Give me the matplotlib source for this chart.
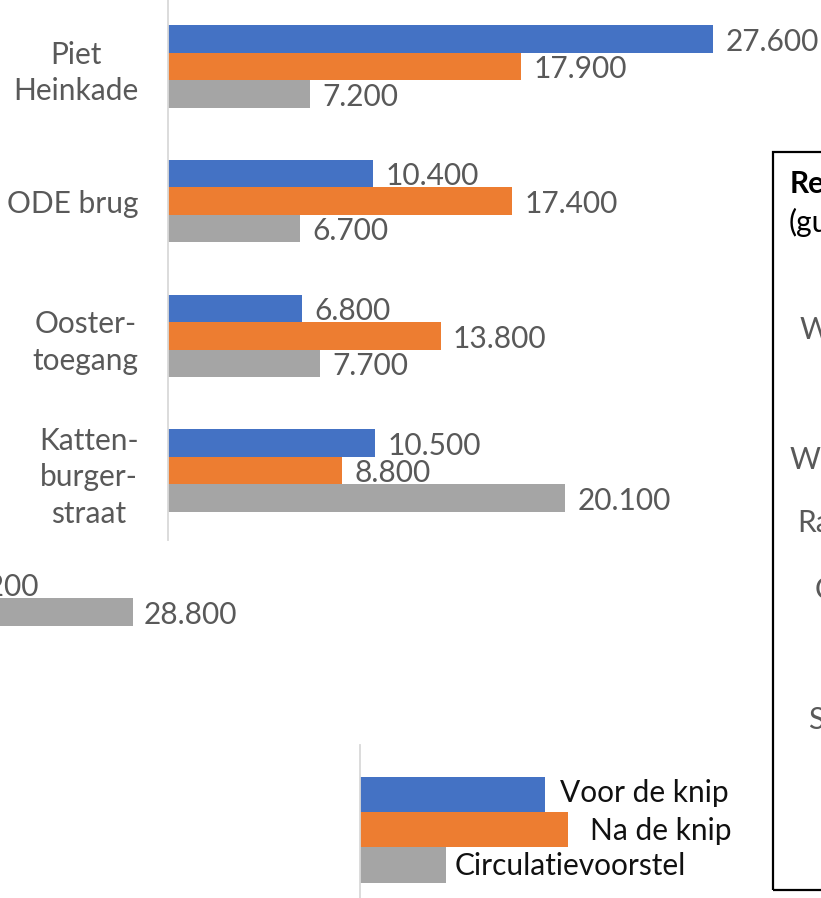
import matplotlib
matplotlib.use("Agg")
import matplotlib.pyplot as plt
from matplotlib.patches import Rectangle

plt.rcParams['font.family'] = ['Lato', 'DejaVu Sans']
plt.rcParams['font.size'] = 21.5

# data
categories = ["Piet\nHeinkade", "ODE brug", "Ooster-\ntoegang", "Katten-\nburger-\nstraat"]
voor_de_knip = [27600, 10400, 6800, 10500]
na_de_knip = [17900, 17400, 13800, 8800]
circulatievoorstel = [7200, 6700, 7700, 20100]

# partly visible panel at the lower left
left_panel_na = [19200]
left_panel_circ = [28800]

series_names = ["Voor de knip", "Na de knip", "Circulatievoorstel"]
legend_bar_lengths = [9.37, 10.53, 4.36]

# fragments of the text box on the right edge
box_texts = ["Re", "(gu", "W", "We", "Ra", "C", "S"]

BLUE = '#4472C4'
ORANGE = '#ED7D31'
GRAY = '#A5A5A5'
TXT = '#595959'
AXIS = '#D9D9D9'

W, H = 821, 898


def fig_rect(x0, y0, x1, y1):
    # pixel box (top-left origin) -> figure fraction
    return [x0 / W, 1 - y1 / H, (x1 - x0) / W, (y1 - y0) / H]


def fmt(v):
    return f"{v:,}".replace(",", ".")


def clean(ax):
    ax.patch.set_visible(False)
    for s in ['top', 'right', 'bottom']:
        ax.spines[s].set_visible(False)
    ax.spines['left'].set_color(AXIS)
    ax.spines['left'].set_linewidth(1.3)
    ax.set_xticks([])
    ax.tick_params(axis='y', length=0)


fig = plt.figure(figsize=(W / 100, H / 100), dpi=100)

# main chart
ax = fig.add_axes(fig_rect(168, 0, 821, 540))
clean(ax)
px_per_unit = 545 / 27600
ax.set_xlim(0, 653 / px_per_unit)
spacing = 134.7
ax.set_ylim((540 - 66.5) / spacing, -66.5 / spacing)
bh = 27.5 / spacing
ys = list(range(len(categories)))
for off, vals, col in [(-bh, voor_de_knip, BLUE), (0, na_de_knip, ORANGE), (bh, circulatievoorstel, GRAY)]:
    yy = [y + off for y in ys]
    ax.barh(yy, vals, height=bh, color=col)
    for y, v in zip(yy, vals):
        ax.annotate(fmt(v), xy=(v, y), xytext=(9, -2), textcoords='offset points',
                    va='center', ha='left', color=TXT)
ax.set_yticks(ys)
ax.set_yticklabels(categories, color=TXT)
ax.tick_params(axis='y', pad=21)
for lab in ax.get_yticklabels():
    lab.set_multialignment('center')
    lab.set_linespacing(1.36)

# lower-left panel, mostly outside the picture
a_px, s_px = -464, 199 / 9600
ax2 = fig.add_axes(fig_rect(a_px, 584.5 - 66.5, a_px + 653, 584.5 - 66.5 + 540))
clean(ax2)
ax2.set_xlim(0, 653 / s_px)
ax2.set_ylim((540 - 66.5) / spacing, -66.5 / spacing)
ax2.set_yticks([])
for off, vals, col in [(0, left_panel_na, ORANGE), (bh, left_panel_circ, GRAY)]:
    ax2.barh([off], vals, height=bh, color=col)
    for v in vals:
        ax2.annotate(fmt(v), xy=(v, off), xytext=(8, -2), textcoords='offset points',
                     va='center', ha='left', color=TXT)

# legend drawn as a small bar chart
ax3 = fig.add_axes(fig_rect(360, 745, 821, 898))
clean(ax3)
ax3.set_xlim(0, 461 / 19.746)
lsp = 35.25
ax3.set_ylim((898 - 794.5) / lsp, -(794.5 - 745) / lsp)
ax3.set_yticks([])
pads = [(11, 1), (16, -1), (6, -1)]
for i, (name, v, col) in enumerate(zip(series_names, legend_bar_lengths, [BLUE, ORANGE, GRAY])):
    ax3.barh(i, v, height=1.0, color=col)
    ax3.annotate(name, xy=(v, i), xytext=pads[i], textcoords='offset points',
                 va='center', ha='left', color='#111111')

# box on the right edge
fig.patches.append(Rectangle((773 / W, 1 - 890 / H), 60 / W, (890 - 152) / H,
                             transform=fig.transFigure, fill=False,
                             edgecolor='black', linewidth=1.6))
box_pos = [(790, 184), (789, 222), (800, 330), (790, 460), (797, 523), (815, 590), (808, 720)]
for i, (t, (x, y)) in enumerate(zip(box_texts, box_pos)):
    fig.text(x / W, 1 - y / H, t, ha='left', va='center',
             color='black' if i < 2 else TXT,
             fontweight='bold' if i == 0 else 'normal')

fig.savefig("out.png", dpi=100)
